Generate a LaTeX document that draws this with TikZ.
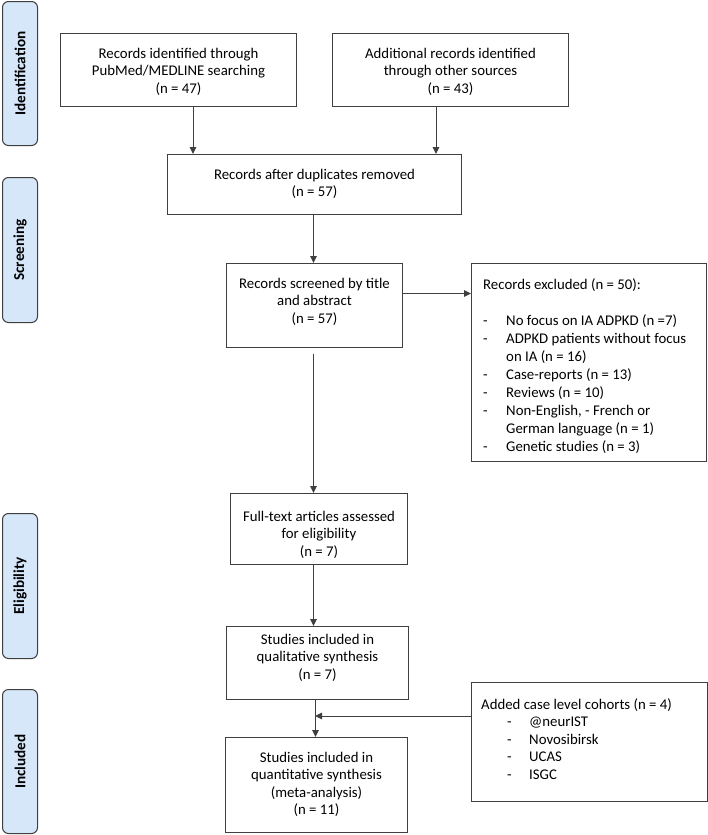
\documentclass[tikz,border=0pt]{standalone}
\usepackage{fontspec}
\setmainfont{Carlito}
\usetikzlibrary{arrows.meta,calc}
\definecolor{ln}{HTML}{3F3F3F}
\definecolor{sidefill}{HTML}{D6E7FA}
\begin{document}
\begin{tikzpicture}[x=1pt,y=-1pt,
  box/.style={draw=ln,line width=1pt,rectangle,inner sep=0pt,anchor=north west},
  txt/.style={inner sep=0pt,anchor=north,align=center,font=\fontsize{14.8}{17.5}\selectfont,execute at begin node=\strut},
  ltxt/.style={inner sep=0pt,anchor=north west,align=left,execute at begin node=\strut},
  sidebox/.style={draw=ln,line width=1pt,fill=sidefill,rounded corners=6pt,inner sep=0pt,anchor=north west,minimum width=35pt},
  sidetxt/.style={rotate=90,inner sep=0pt,font=\fontsize{15.2}{17}\selectfont\bfseries},
  arr/.style={draw=ln,line width=1pt,-{Triangle[length=7pt,width=6.5pt]}}]
\useasboundingbox (0,0) rectangle (708,835);

% side labels
\node[sidebox,minimum height=144pt] (s1) at (2,1) {};
\node[sidetxt] at (s1.center) {Identification};
\node[sidebox,minimum height=145pt] (s2) at (2,177) {};
\node[sidetxt] at (s2.center) {Screening};
\node[sidebox,minimum height=145pt] (s3) at (2,513) {};
\node[sidetxt] at (s3.center) {Eligibility};
\node[sidebox,minimum height=144pt] (s4) at (2,689) {};
\node[sidetxt] at (s4.center) {Included};

% boxes
\node[box,minimum width=236pt,minimum height=73pt] (b1) at (60,33) {};
\node[box,minimum width=236pt,minimum height=73pt] (b2) at (332,33) {};
\node[box,minimum width=294pt,minimum height=60pt] (dup) at (167,154) {};
\node[box,minimum width=176pt,minimum height=84pt] (sc) at (226,263) {};
\node[box,minimum width=235pt,minimum height=198pt] (excl) at (471,263) {};
\node[box,minimum width=177pt,minimum height=71pt] (ft) at (230,493) {};
\node[box,minimum width=182pt,minimum height=73pt] (qual) at (226,626) {};
\node[box,minimum width=182pt,minimum height=95pt] (quant) at (225,737) {};
\node[box,minimum width=236pt,minimum height=119pt] (added) at (471,682) {};

% texts
\node[txt] at ([yshift=-15pt]b1.north) {Records identified through\\PubMed/MEDLINE searching\\(n = 47)};
\node[txt] at ([yshift=-15pt]b2.north) {Additional records identified\\through other sources\\(n = 43)};
\node[txt] at ([yshift=-15pt]dup.north) {Records after duplicates removed\\(n = 57)};
\node[txt] at ([yshift=-15pt]sc.north) {Records screened by title\\and abstract\\(n = 57)};
\node[txt] at ([yshift=-18pt]ft.north) {Full-text articles assessed\\for eligibility\\(n = 7)};
\node[txt] at ([yshift=-8pt]qual.north) {Studies included in\\qualitative synthesis\\(n = 7)};
\node[txt] at ([yshift=-15pt]quant.north) {Studies included in\\quantitative synthesis\\(meta-analysis)\\(n = 11)};

\node[ltxt,font=\fontsize{14.8}{18}\selectfont] at (483,278.7) {Records excluded (n = 50):\\[18pt]
\makebox[23pt][l]{-}No focus on IA ADPKD (n =7)\\
\makebox[23pt][l]{-}ADPKD patients without focus\\
\hspace*{23pt}on IA (n = 16)\\
\makebox[23pt][l]{-}Case-reports (n = 13)\\
\makebox[23pt][l]{-}Reviews (n = 10)\\
\makebox[23pt][l]{-}Non-English, - French or\\
\hspace*{23pt}German language (n = 1)\\
\makebox[23pt][l]{-}Genetic studies (n = 3)};

\node[ltxt,font=\fontsize{14.8}{17.5}\selectfont] at (481,698) {Added case level cohorts (n = 4)\\
\hspace*{26pt}\makebox[22pt][l]{-}@neurIST\\
\hspace*{26pt}\makebox[22pt][l]{-}Novosibirsk\\
\hspace*{26pt}\makebox[22pt][l]{-}UCAS\\
\hspace*{26pt}\makebox[22pt][l]{-}ISGC};

% connectors
\draw[arr] ([xshift=133pt]b1.south west) -- ([xshift=133pt]b1.south west |- dup.north);
\draw[arr] ([xshift=104pt]b2.south west) -- ([xshift=104pt]b2.south west |- dup.north);
\draw[arr] ([xshift=-1pt]dup.south) -- ([xshift=-1pt]dup.south |- sc.north);
\draw[arr] ([yshift=12pt]sc.east) -- ([yshift=12pt]sc.east -| excl.west);
\draw[arr,shorten <=6pt] ([xshift=-1pt]sc.south) -- ([xshift=-1pt]sc.south |- ft.north);
\draw[arr] ([xshift=-1pt]sc.south |- ft.south) -- ([xshift=-1pt]sc.south |- qual.north);
\draw[arr] ([xshift=-2pt]qual.south) -- ([xshift=-2pt]qual.south |- quant.north);
\coordinate (j) at (315,716);
\draw[arr] (added.west |- j) -- (j);
\end{tikzpicture}
\end{document}
